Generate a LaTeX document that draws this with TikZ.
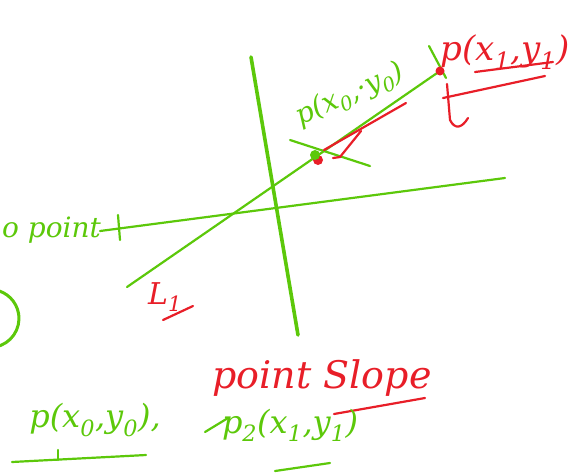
\documentclass[tikz,border=0pt]{standalone}
\usepackage{fontspec}
\setmainfont{DejaVu Serif}
\begin{document}
\begin{tikzpicture}[x=1pt,y=-1pt,line cap=round,line join=round]
\definecolor{pgreen}{RGB}{92,200,10}
\definecolor{pred}{RGB}{232,30,40}
\tikzset{
  gline/.style={draw=pgreen,line width=2.2pt},
  gthick/.style={draw=pgreen,line width=3.6pt},
  rline/.style={draw=pred,line width=2.2pt},
  gtext/.style={text=pgreen,font=\fontsize{28}{28}\selectfont\itshape,inner sep=0pt},
  rtext/.style={text=pred,font=\fontsize{30}{30}\selectfont\itshape,inner sep=0pt},
}
\useasboundingbox (0,0) rectangle (572,472);
% axes
\coordinate (vtop) at (251,57);
\coordinate (vbot) at (298,335);
\draw[gthick] (vtop) -- (vbot);
\coordinate (hl) at (100,231);
\coordinate (hr) at (505,178);
\draw[gline] (hl) -- (hr);
% line L1
\coordinate (la) at (127,287);
\coordinate (P0) at (315,155);
\coordinate (P1) at (440,71);
\draw[gline] (la) -- (P1);
% cross at P0
\coordinate (c1) at (290,140);
\coordinate (c2) at (370,166);
\draw[gline] (c1) -- (c2);
\fill[pred] (318,160) circle (5);
\fill[pgreen] (P0) circle (5);
\coordinate (r1) at (324,150);
\coordinate (r2) at (406,103);
\draw[rline] (r1) -- (r2);
\coordinate (k1) at (333,158);
\coordinate (k2) at (340,157);
\coordinate (k3) at (361,131);
\draw[rline] (k1) -- (k2) -- (k3);
% tick at P1
\coordinate (g1) at (429,46);
\coordinate (g2) at (446,78);
\draw[gline] (g1) -- (g2);
\fill[pred] (P1) circle (4.5);
% P0 label
\node[gtext,rotate=24] (lp0) at (350,95) {p(x\textsubscript{0},·y\textsubscript{0})};
% P1 label
\node[rtext,font=\fontsize{34}{34}\selectfont\itshape] (lp1) at (505,52) {p(x\textsubscript{1},y\textsubscript{1})};
\coordinate (u1) at (475,72);
\coordinate (u2) at (553,62);
\draw[rline] (u1) -- (u2);
\coordinate (u3) at (443,98);
\coordinate (u4) at (545,76);
\draw[rline] (u3) -- (u4);
\coordinate (t1) at (447,84);
\coordinate (t2) at (450,120);
\coordinate (t3) at (468,118);
\draw[rline] (t1) -- (t2) .. controls (455,130) and (462,128) .. (t3);
% left text
\node[gtext,anchor=south west] (lpt) at (2,244) {o point};
\coordinate (x1) at (118,215);
\coordinate (x2) at (120,240);
\draw[gline] (x1) -- (x2);
% arc at left
\coordinate (arcs) at (-5,347);
\draw[gline,line width=3pt] (arcs) arc[start angle=80,end angle=-80,radius=29];
% L1
\node[rtext] (lL1) at (165,297) {L\textsubscript{1}};
\coordinate (l1a) at (163,320);
\coordinate (l1b) at (193,306);
\draw[rline] (l1a) -- (l1b);
% point slope
\node[rtext,font=\fontsize{38}{38}\selectfont\itshape] (lps) at (322,378) {point Slope};
\coordinate (ps1) at (334,414);
\coordinate (ps2) at (425,398);
\draw[rline] (ps1) -- (ps2);
% bottom labels
\node[gtext,font=\fontsize{32}{32}\selectfont\itshape] (lb0) at (95,420) {p(x\textsubscript{0},y\textsubscript{0}),};
\coordinate (b1) at (12,462);
\coordinate (b2) at (146,455);
\draw[gline] (b1) -- (b2);
\coordinate (b3) at (58,460);
\coordinate (b4) at (58,450);
\draw[gline] (b3) -- (b4);
\node[gtext,font=\fontsize{32}{32}\selectfont\itshape] (lb1) at (290,425) {p\textsubscript{2}(x\textsubscript{1},y\textsubscript{1})};
\coordinate (b5) at (275,471);
\coordinate (b6) at (330,463);
\draw[gline] (b5) -- (b6);
\coordinate (b7) at (205,432);
\coordinate (b8) at (228,418);
\draw[gline] (b7) -- (b8);
\end{tikzpicture}
\end{document}
